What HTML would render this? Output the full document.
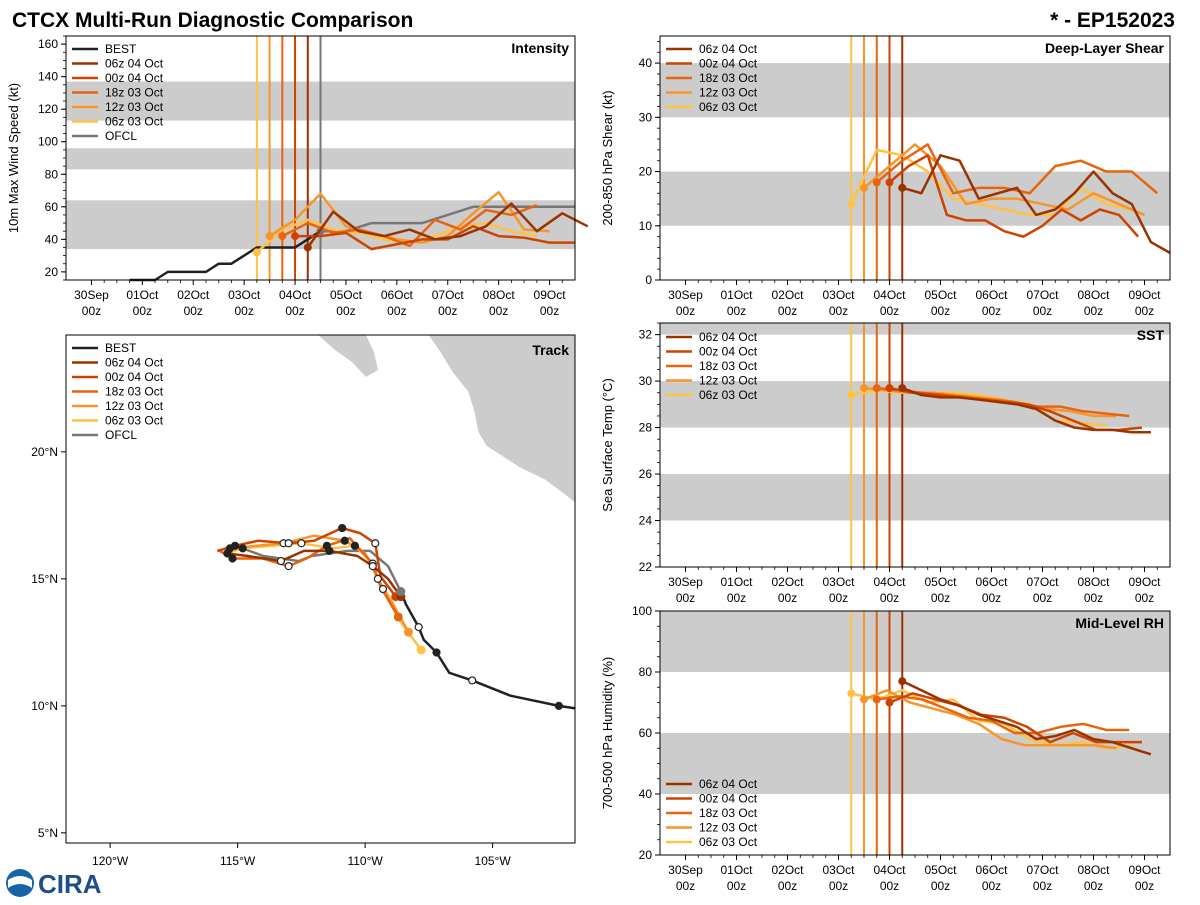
<!DOCTYPE html>
<html><head><meta charset="utf-8"><style>
body{margin:0;background:#fff;font-family:"Liberation Sans",sans-serif}
svg text{font-family:"Liberation Sans","DejaVu Sans",sans-serif}
</style></head><body>
<svg id="s" width="1200" height="900" xmlns="http://www.w3.org/2000/svg">
<text x="12" y="27" font-size="21" font-weight="bold">CTCX Multi-Run Diagnostic Comparison</text>
<text x="1175" y="27" font-size="21" font-weight="bold" text-anchor="end">* - EP152023</text>
<g>
<circle cx="20" cy="883" r="14" fill="#1565a8"/><path d="M8 880 Q20 872 32 880 L32 888 Q20 880 8 888Z" fill="#fff"/>
<text x="38" y="893" font-size="26" font-weight="bold" fill="#1c4f8a">CIRA</text>
</g>
</svg>
<script>
const NS='http://www.w3.org/2000/svg';
const svg=document.getElementById('s');
function el(tag,attrs,parent){const e=document.createElementNS(NS,tag);for(const k in attrs)e.setAttribute(k,attrs[k]);(parent||svg).appendChild(e);return e;}

// ---- data ----
const runNames=['06z 04 Oct','00z 04 Oct','18z 03 Oct','12z 03 Oct','06z 03 Oct'];
const runColors=['#993300','#cc4400','#e8650f','#f7952a','#ffc244'];
const runInit=[4.25,4.0,3.75,3.5,3.25];
const dayLabels=['30Sep','01Oct','02Oct','03Oct','04Oct','05Oct','06Oct','07Oct','08Oct','09Oct'];

const bestTimes=[0.75,1.0,1.25,1.5,1.75,2.0,2.25,2.5,2.75,3.0,3.25,3.5,3.75,4.0,4.25,4.5];
const bestVmax=[15,15,15,20,20,20,20,25,25,30,35,35,35,35,40,45];
const ofclTimes=[4.5,5.0,5.5,6.0,6.5,7.0,7.5,8.0,8.5,9.0,9.5];
const ofclVmax=[45,45,50,50,50,55,60,60,60,60,60];
const vmax06z04=[35,57,45,42,46,40,42,48,62,45,56,48];
const vmax00z04=[42,42,44,34,37,40,40,48,42,41,38,38];
const vmax18z03=[42,50,44,46,42,36,52,46,58,55,61];
const vmax12z03=[42,52,68,48,44,40,38,42,56,69,46,45];
const vmax06z03=[32,46,52,46,44,40,38,42,48,50,45,42];
const vmaxRuns=[vmax06z04,vmax00z04,vmax18z03,vmax12z03,vmax06z03];

const shr06z04=[17,16,23,22,15,16,17,12,13,16,20,16,14,7,5];
const shr00z04=[18,21,23,12,11,11,9,8,10,13,11,13,12,8];
const shr18z03=[18,22,25,16,17,17,16,21,22,20,20,16];
const shr12z03=[17,21,25,21,14,15,15,14,13,16,14,12];
const shr06z03=[14,24,23,20,15,14,13,12,12,17,14,13];
const shrRuns=[shr06z04,shr00z04,shr18z03,shr12z03,shr06z03];
const shrDt=[0.375,0.375,0.5,0.5,0.5];

const sst06z04=[29.7,29.4,29.3,29.3,29.2,29.1,29.0,28.8,28.3,28.0,27.9,27.9,27.8,27.8];
const sst00z04=[29.7,29.5,29.4,29.3,29.2,29.1,29.0,28.7,28.3,27.9,27.9,28.0];
const sst18z03=[29.7,29.6,29.5,29.4,29.3,29.2,29.1,28.9,28.9,28.7,28.6,28.5];
const sst12z03=[29.7,29.6,29.5,29.5,29.4,29.3,29.2,29.0,28.8,28.7,28.5,28.5];
const sst06z03=[29.4,29.6,29.5,29.5,29.5,29.4,29.2,29.0,28.3,28.2,28.1];
const sstRuns=[sst06z04,sst00z04,sst18z03,sst12z03,sst06z03];
const sstDt=[0.375,0.45,0.45,0.45,0.5];

const rh06z04=[77,74,71,69,66,64,62,58,59,61,58,57,55,53];
const rh00z04=[70,73,71,69,66,65,62,57,60,57,57,57];
const rh18z03=[71,72,71,68,65,64,60,60,62,63,61,61];
const rh12z03=[71,74,70,68,66,63,58,56,56,56,56,55];
const rh06z03=[73,71,74,70,71,64,63,58,56,57,55,56];
const rhRuns=[rh06z04,rh00z04,rh18z03,rh12z03,rh06z03];
const rhDt=[0.375,0.45,0.45,0.45,0.5];

// track data (lon, lat)
const bestLon=[-101.75,-102.4,-104.3,-105.8,-106.7,-107.2,-107.7,-107.9,-108.4,-108.6];
const bestLat=[9.9,10.0,10.4,11.0,11.3,12.1,12.6,13.1,14.0,14.5];
const ofclLon=[-108.6,-109.1,-109.8,-110.7,-112.1,-112.6,-114.0,-114.8];
const ofclLat=[14.5,15.5,16.1,16.1,15.9,15.7,15.9,16.2];
const trkLon06z04=[-108.6,-109.1,-109.7,-110.3,-111.4,-112.4,-113.3,-114.6,-115.4];
const trkLat06z04=[14.3,15.0,15.5,15.9,16.1,16.1,15.7,15.9,16.0];
const trkLon00z04=[-108.8,-109.4,-109.6,-110.2,-110.9,-112.0,-113.0,-114.2,-115.1,-115.8];
const trkLat00z04=[14.3,15.1,16.4,16.8,17.0,16.5,16.4,16.5,16.3,16.1];
const trkLon18z03=[-108.7,-109.4,-109.7,-110.6,-111.5,-112.3,-113.0,-114.0,-115.2,-115.7];
const trkLat18z03=[13.5,14.7,15.6,16.6,16.3,15.8,15.5,15.8,15.8,16.1];
const trkLon12z03=[-108.3,-108.9,-109.5,-110.0,-110.8,-112.0,-113.2,-114.3,-115.3];
const trkLat12z03=[12.9,14.0,15.0,16.0,16.5,16.7,16.4,16.3,16.2];
const trkLon06z03=[-107.8,-108.6,-109.3,-109.8,-110.4,-111.3,-112.5,-113.7,-114.8,-115.4];
const trkLat06z03=[12.2,13.3,14.6,15.7,16.3,16.2,16.4,16.3,16.2,16.0];
const trkLonRuns=[trkLon06z04,trkLon00z04,trkLon18z03,trkLon12z03,trkLon06z03];
const trkLatRuns=[trkLat06z04,trkLat00z04,trkLat18z03,trkLat12z03,trkLat06z03];

// ---- generic time panel ----
function panel(cfg){
  const g=el('g',{});
  
  
  const X=t=>cfg.x0+(t+0.5)/10*(cfg.x1-cfg.x0);
  const Y=v=>cfg.y1-(v-cfg.vmin)/(cfg.vmax-cfg.vmin)*(cfg.y1-cfg.y0);
  cfg.bands.forEach(b=>{const r=el('rect',{x:cfg.x0,y:Y(Math.min(b[1],cfg.vmax)),width:cfg.x1-cfg.x0,height:Y(b[0])-Y(Math.min(b[1],cfg.vmax)),fill:'#cccccc'},g);
    });
  // y ticks
  for(let v=cfg.tick0;v<=cfg.vmax+1e-9;v+=cfg.tickStep){
    el('line',{x1:cfg.x0-5,x2:cfg.x0,y1:Y(v),y2:Y(v),stroke:'#000'},g);
    const t=el('text',{x:cfg.x0-8,y:Y(v)+4,'font-size':12,'text-anchor':'end'},g);t.textContent=v;
    
  }
  for(let v=cfg.vmin;v<=cfg.vmax+1e-9;v+=cfg.minor){if(v>=cfg.vmin)el('line',{x1:cfg.x0-3,x2:cfg.x0,y1:Y(v),y2:Y(v),stroke:'#000','stroke-width':0.8},g);}
  // x ticks
  dayLabels.forEach((d,i)=>{
    el('line',{x1:X(i),x2:X(i),y1:cfg.y1,y2:cfg.y1+5,stroke:'#000'},g);
    const t=el('text',{x:X(i),y:cfg.y1+19,'font-size':12,'text-anchor':'middle'},g);t.textContent=d;
    
    const t2=el('text',{x:X(i),y:cfg.y1+35,'font-size':12,'text-anchor':'middle'},g);t2.textContent='00z';
    for(let k=1;k<4;k++){const xm=X(i+k*0.25);if(xm<cfg.x1)el('line',{x1:xm,x2:xm,y1:cfg.y1,y2:cfg.y1+3,stroke:'#000','stroke-width':0.8},g);}
  });
  const yl=el('text',{x:0,y:0,'font-size':13,'text-anchor':'middle',transform:`translate(${cfg.x0-48},${(cfg.y0+cfg.y1)/2}) rotate(-90)`},g);
  yl.textContent=cfg.ylabel;
  // init lines
  runInit.forEach((t,i)=>{const l=el('line',{x1:X(t),x2:X(t),y1:cfg.y0,y2:cfg.y1,stroke:runColors[i],'stroke-width':2},g);
    });
  if(cfg.ofcl){const l=el('line',{x1:X(4.5),x2:X(4.5),y1:cfg.y0,y2:cfg.y1,stroke:'#777','stroke-width':2},g);
    }
  function series(ts,vs,color,name,dot){
    const pts=vs.map((v,i)=>X(ts[i])+','+Y(v)).join(' ');
    const p=el('polyline',{points:pts,fill:'none',stroke:color,'stroke-width':2.5,'stroke-linejoin':'round'},g);
    
    if(dot){const c=el('circle',{cx:X(ts[0]),cy:Y(vs[0]),r:4,fill:color},g);
      }
  }
  if(cfg.best){series(bestTimes,bestVmax,'#222','best-line',false);series(ofclTimes,ofclVmax,'#777','ofcl-line',true);}
  for(let r=4;r>=0;r--){const vs=cfg.runs[r];const dt=cfg.dt[r];
    series(vs.map((v,i)=>runInit[r]+i*dt),vs,runColors[r],'run-line-'+r,true);}
  el('rect',{x:cfg.x0,y:cfg.y0,width:cfg.x1-cfg.x0,height:cfg.y1-cfg.y0,fill:'none',stroke:'#000','stroke-width':1},g);
  const tt=el('text',{x:cfg.x1-6,y:cfg.y0+17,'font-size':14,'font-weight':'bold','text-anchor':'end'},g);
  tt.textContent=cfg.title;
  legend(g,cfg.x0+6,cfg.ly,cfg.best);
}
function legend(g,x,y,withBest){
  const items=[];
  if(withBest)items.push(['BEST','#222']);
  runNames.forEach((n,i)=>items.push([n,runColors[i]]));
  if(withBest)items.push(['OFCL','#777']);
  const lg=el('g',{},g);
  
  items.forEach((it,i)=>{
    const yy=y+i*14.5;
    el('line',{x1:x,x2:x+26,y1:yy,y2:yy,stroke:it[1],'stroke-width':2.5},lg);
    const t=el('text',{x:x+33,y:yy+4,'font-size':12},lg);t.textContent=it[0];
    
  });
}

panel({name:'intensity-panel',x0:66,x1:575,y0:36,y1:280,vmin:15,vmax:165,tick0:20,tickStep:20,minor:5,
  bands:[[34,64],[83,96],[113,137]],ylabel:'10m Max Wind Speed (kt)',title:'Intensity',best:true,ofcl:true,
  runs:vmaxRuns,dt:[0.5,0.5,0.5,0.5,0.5],ly:49});
panel({name:'shear-panel',x0:660,x1:1170,y0:36,y1:280,vmin:0,vmax:45,tick0:0,tickStep:10,minor:2,
  bands:[[10,20],[30,40]],ylabel:'200-850 hPa Shear (kt)',title:'Deep-Layer Shear',runs:shrRuns,dt:shrDt,ly:49});
panel({name:'sst-panel',x0:660,x1:1170,y0:323,y1:567,vmin:22,vmax:32.5,tick0:22,tickStep:2,minor:0.5,
  bands:[[24,26],[28,30],[32,33]],ylabel:'Sea Surface Temp (°C)',title:'SST',runs:sstRuns,dt:sstDt,ly:337});
panel({name:'rh-panel',x0:660,x1:1170,y0:611,y1:855,vmin:20,vmax:100,tick0:20,tickStep:20,minor:5,
  bands:[[40,60],[80,100]],ylabel:'700-500 hPa Humidity (%)',title:'Mid-Level RH',runs:rhRuns,dt:rhDt,ly:784});

// ---- track map ----
(function(){
  const x0=66,x1=575,y0=335,y1=843;
  const LX=lon=>x0+(lon+121.73)*25.5;
  const LY=lat=>y0+(24.6-lat)*25.4;
  const g=el('g',{});
  
  const land=el('path',{d:'M428 335 L440 352 L452 372 L468 392 L474 412 L478 432 L486 446 L500 455 L520 468 L545 480 L565 495 L575 503 L575 335 Z',fill:'#cccccc',stroke:'#fff','stroke-width':1},g);
  
  const baja=el('path',{d:'M318 335 L335 350 L352 362 L366 377 L378 370 L374 352 L366 335 Z',fill:'#cccccc'},g);
  
  [[-120,'120°W'],[-115,'115°W'],[-110,'110°W'],[-105,'105°W']].forEach(a=>{
    el('line',{x1:LX(a[0]),x2:LX(a[0]),y1:y1,y2:y1+5,stroke:'#000'},g);
    const t=el('text',{x:LX(a[0]),y:y1+22,'font-size':12,'text-anchor':'middle'},g);t.textContent=a[1];
    });
  [[5,'5°N'],[10,'10°N'],[15,'15°N'],[20,'20°N']].forEach(a=>{
    el('line',{x1:x0-5,x2:x0,y1:LY(a[0]),y2:LY(a[0]),stroke:'#000'},g);
    const t=el('text',{x:x0-8,y:LY(a[0])+4,'font-size':12,'text-anchor':'end'},g);t.textContent=a[1];
    });
  function trk(lons,lats,color,name){
    const p=el('polyline',{points:lons.map((v,i)=>LX(v)+','+LY(lats[i])).join(' '),fill:'none',stroke:color,'stroke-width':2.5,'stroke-linejoin':'round'},g);
    
  }
  function marks(lons,lats,color){
    lons.forEach((v,i)=>{
      if(i===0){el('circle',{cx:LX(v),cy:LY(lats[i]),r:4.5,fill:color},g);return;}
      if(i%2===0)el('circle',{cx:LX(v),cy:LY(lats[i]),r:3.5,fill:(i%4===0)?'#222':'#fff',stroke:'#222','stroke-width':1.2},g);
    });
  }
  trk(bestLon,bestLat,'#222','best-track');
  trk(ofclLon,ofclLat,'#777','ofcl-track');
  for(let r=4;r>=0;r--)trk(trkLonRuns[r],trkLatRuns[r],runColors[r],'run-track-'+r);
  bestLon.forEach((v,i)=>{if(i%2===1)el('circle',{cx:LX(v),cy:LY(bestLat[i]),r:3.5,fill:(i%4===1)?'#222':'#fff',stroke:'#222','stroke-width':1.2},g);});
  for(let r=4;r>=0;r--)marks(trkLonRuns[r],trkLatRuns[r],runColors[r]);
  el('circle',{cx:LX(ofclLon[0]),cy:LY(ofclLat[0]),r:4.5,fill:'#777'},g);
  el('rect',{x:x0,y:y0,width:x1-x0,height:y1-y0,fill:'none',stroke:'#000'},g);
  const tt=el('text',{x:x1-6,y:y0+20,'font-size':14,'font-weight':'bold','text-anchor':'end'},g);
  tt.textContent='Track';
  legend(g,x0+6,348,true);
})();
</script>
</body></html>
